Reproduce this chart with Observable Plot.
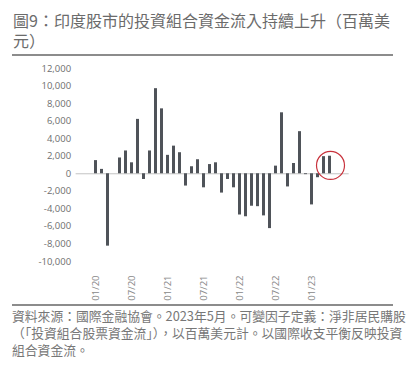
<!DOCTYPE html>
<html>
<head>
<meta charset="utf-8">
<script src="https://cdn.jsdelivr.net/npm/d3@7"></script>
<script src="https://cdn.jsdelivr.net/npm/@observablehq/plot@0.6"></script>
<style>
  html, body { margin: 0; padding: 0; background: #fff; }
  body { width: 410px; height: 367px; position: relative; overflow: hidden;
         font-family: "Noto Sans CJK TC", "Noto Sans", sans-serif; }
  .t { position: absolute; left: 13px; font-size: 16px; line-height: 16px;
       color: #6b6b6b; white-space: nowrap; }
  .rule { position: absolute; left: 12px; width: 381px; height: 1.5px; background: #8c8c8c; }
  #chart { position: absolute; left: 0; top: 58px; }
  .c { position: absolute; left: 12px; font-size: 12.8px; line-height: 13px;
       color: #777; white-space: nowrap; }
</style>
</head>
<body>
<div class="t" style="top:12px">圖9：印度股市的投資組合資金流入持續上升（百萬美</div>
<div class="t" style="top:32px">元）</div>
<div class="rule" style="top:54px"></div>
<div id="chart"></div>
<div class="rule" style="top:304px"></div>
<div class="c" style="top:309px">資料來源：國際金融協會。2023年5月。可變因子定義：淨非居民購股</div>
<div class="c" style="top:326px">（「投資組合股票資金流」），以百萬美元計。以國際收支平衡反映投資</div>
<div class="c" style="top:343px">組合資金流。</div>
<script>
const months = [
  "01/20","02/20","03/20","04/20","05/20","06/20","07/20","08/20","09/20","10/20","11/20","12/20",
  "01/21","02/21","03/21","04/21","05/21","06/21","07/21","08/21","09/21","10/21","11/21","12/21",
  "01/22","02/22","03/22","04/22","05/22","06/22","07/22","08/22","09/22","10/22","11/22","12/22",
  "01/23","02/23","03/23","04/23"
];
const flows = [
  1500, 500, -8250, 0, 1800, 2600, 1250, 6200, -650, 2600, 9700, 7400,
  2100, 3150, 2400, -1400, 800, 1600, -1600, 1050, 1250, -2200, -650, -1600,
  -4700, -4900, -3700, -3750, -4800, -6250, 870, 6950, -1500, 1170, 4800, -100,
  -3550, -450, 1950, 2000
];
const yTicks = [12000, 10000, 8000, 6000, 4000, 2000, 0, -2000, -4000, -6000, -8000, -10000];
const xTickLabels = ["01/20","07/20","01/21","07/21","01/22","07/22","01/23"];
const highlight = [{month: "04/23", value: 950}];

const data = months.map((m, i) => ({month: m, value: flows[i]}));
const fmt = d => (d < 0 ? "-" : "") + d3.format(",")(Math.abs(d));

const chart = Plot.plot({
  width: 410,
  height: 245,
  marginLeft: 75.6,
  marginRight: 61.3,
  marginTop: 10,
  marginBottom: 42,
  style: {fontFamily: "'Open Sans', 'Noto Sans', sans-serif", background: "transparent"},
  x: {type: "band", domain: months, padding: 0.55, axis: null},
  y: {domain: [-10000, 12000], axis: null},
  marks: [
    Plot.ruleY([0], {stroke: "#c4c4c4", strokeWidth: 1}),
    Plot.barY(data, {x: "month", y: "value", fill: "#4f5359"}),
    Plot.axisY({ticks: yTicks, tickSize: 0, tickPadding: 5, tickFormat: fmt,
                fontSize: 9.5, fill: "#6e6e6e", label: null}),
    Plot.text(xTickLabels, {x: d => d, text: d => d, frameAnchor: "bottom",
                rotate: -90, textAnchor: "end", lineAnchor: "middle", dy: 14,
                fontSize: 9.5, fill: "#888"}),
    Plot.dot(highlight, {x: "month", y: "value", r: 14, stroke: "#c8323c",
                strokeWidth: 1.2, fill: "none", dx: 0.5})
  ]
});
document.getElementById("chart").appendChild(chart);
</script>
</body>
</html>
